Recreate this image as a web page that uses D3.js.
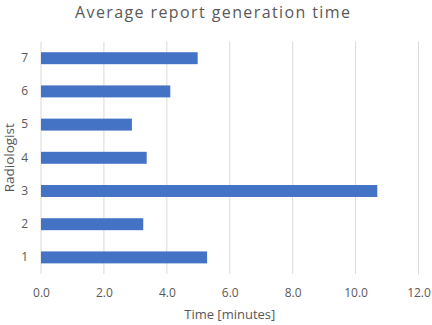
<!DOCTYPE html>
<html>
<head>
<meta charset="utf-8">
<script src="https://cdn.jsdelivr.net/npm/d3@7"></script>
<style>
  body { margin: 0; background: #fff; }
  text { font-family: "Open Sans", Lato, sans-serif; fill: #595959; }
</style>
</head>
<body>
<div id="chart"></div>
<script>
  // 数据
  var radiologists = ['1', '2', '3', '4', '5', '6', '7']
  var avgTime = [5.28, 3.25, 10.69, 3.36, 2.89, 4.11, 4.98]
  var xTicks = [0, 2, 4, 6, 8, 10, 12]

  var width = 432
  var height = 325
  var margin = { top: 41.6, right: 13.5, bottom: 51, left: 41 }

  var svg = d3.select('#chart').append('svg')
    .attr('width', width)
    .attr('height', height)

  var x = d3.scaleLinear()
    .domain([0, 12])
    .range([margin.left, width - margin.right])

  var y = d3.scaleBand()
    .domain(radiologists.slice().reverse())
    .range([margin.top, height - margin.bottom])
    .paddingInner(0.64)
    .paddingOuter(0.32)

  // 网格线
  svg.append('g')
    .selectAll('line')
    .data(xTicks)
    .enter()
    .append('line')
    .attr('x1', function(d) { return x(d) })
    .attr('x2', function(d) { return x(d) })
    .attr('y1', margin.top)
    .attr('y2', height - margin.bottom)
    .attr('stroke', '#d9d9d9')
    .attr('stroke-width', 1)

  // 柱子
  svg.append('g')
    .selectAll('rect')
    .data(avgTime)
    .enter()
    .append('rect')
    .attr('x', x(0))
    .attr('y', function(d, i) { return y(radiologists[i]) })
    .attr('width', function(d) { return x(d) - x(0) })
    .attr('height', y.bandwidth())
    .attr('fill', '#4472c4')

  // x轴
  var xAxis = svg.append('g')
    .attr('transform', 'translate(0,' + (height - margin.bottom) + ')')
    .call(d3.axisBottom(x).tickValues(xTicks).tickFormat(d3.format('.1f')).tickSize(0).tickPadding(14))
  xAxis.select('.domain').remove()
  xAxis.selectAll('text').attr('font-size', 12).style('font-family', null)

  // y轴
  var yAxis = svg.append('g')
    .attr('transform', 'translate(' + margin.left + ',0)')
    .call(d3.axisLeft(y).tickSize(0).tickPadding(13))
  yAxis.select('.domain').remove()
  yAxis.selectAll('text').attr('font-size', 12).style('font-family', null)

  // 标题
  svg.append('text')
    .attr('x', 212.5)
    .attr('y', 17.5)
    .attr('text-anchor', 'middle')
    .attr('font-size', 16)
    .attr('textLength', 275)
    .attr('lengthAdjust', 'spacing')
    .text('Average report generation time')

  svg.append('text')
    .attr('x', (x(0) + x(12)) / 2)
    .attr('y', 319)
    .attr('text-anchor', 'middle')
    .attr('font-size', 13)
    .text('Time [minutes]')

  svg.append('text')
    .attr('transform', 'translate(14,' + ((margin.top + height - margin.bottom) / 2) + ') rotate(-90)')
    .attr('text-anchor', 'middle')
    .attr('font-size', 13.5)
    .text('Radiologist')
</script>
</body>
</html>
